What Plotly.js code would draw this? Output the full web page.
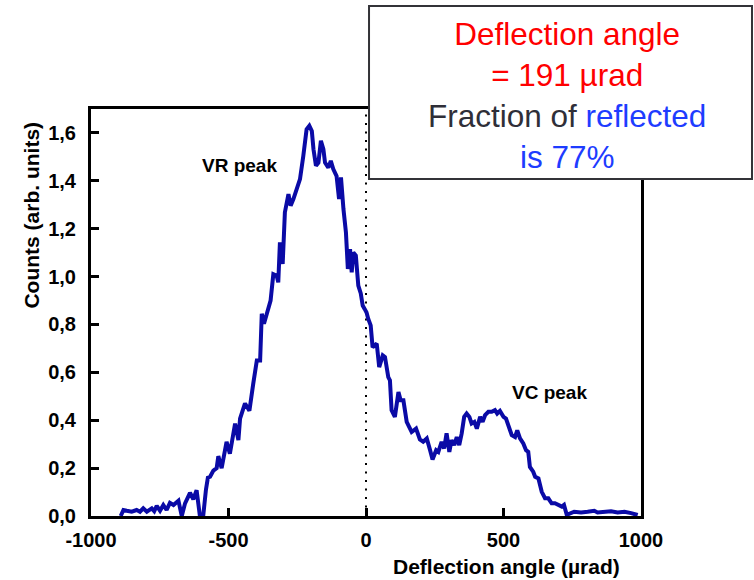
<!DOCTYPE html>
<html>
<head>
<meta charset="utf-8">
<script src="https://cdn.plot.ly/plotly-3.0.1.min.js"></script>
<style>
  html, body { margin: 0; padding: 0; background: #ffffff; }
  #chart { width: 754px; height: 580px; }
</style>
</head>
<body>
<div id="chart"></div>
<script>
// Deflection angle distribution (µrad) and counts
const angle = [
  -892, -882, -870, -852, -834, -822, -810, -797, -779, -770, -761, -749, -737, -725, -713, -700,
  -682, -670, -658, -640, -628, -616, -604, -592, -582, -575, -567, -555, -543, -537, -525, -513,
  -507, -495, -488, -476, -464, -458, -440, -424, -410, -397, -385, -379, -371, -355, -347, -337,
  -325, -319, -313, -303, -295, -282, -274, -264, -252, -240, -228, -216, -206, -197, -191, -182,
  -173, -164, -155, -149, -137, -128, -119, -107, -98, -91, -82, -73, -66, -58, -52, -46,
  -37, -28, -19, -12, -5, 2, 8, 17, 24, 39, 48, 61, 69, 81, 87, 93,
  105, 118, 126, 136, 148, 166, 182, 196, 208, 221, 233, 242, 255, 263, 275, 284,
  293, 303, 311, 321, 330, 339, 348, 357, 366, 376, 384, 394, 403, 415, 424, 433,
  445, 457, 469, 477, 487, 500, 509, 521, 530, 542, 550, 560, 572, 582, 590, 596,
  608, 615, 627, 639, 651, 663, 675, 687, 699, 712, 720, 730, 757, 782, 806, 830,
  842, 867, 891, 915, 940, 964, 988
];
const counts = [
  0.0, 0.025, 0.022, 0.018, 0.025, 0.018, 0.032, 0.018, 0.032, 0.02, 0.042, 0.022, 0.046, 0.025, 0.055, 0.046,
  0.064, 0.0, 0.053, 0.097, 0.07, 0.108, 0.0, 0.0, 0.11, 0.16, 0.164, 0.19, 0.2, 0.25, 0.2, 0.28,
  0.31, 0.26, 0.31, 0.386, 0.317, 0.407, 0.47, 0.44, 0.553, 0.65, 0.65, 0.845, 0.803, 0.87, 0.9, 1.01,
  1.004, 0.976, 1.143, 1.053, 1.268, 1.344, 1.296, 1.324, 1.365, 1.407, 1.504, 1.615, 1.63, 1.608, 1.532, 1.463,
  1.476, 1.567, 1.532, 1.476, 1.455, 1.483, 1.449, 1.42, 1.324, 1.414, 1.282, 1.185, 1.032, 1.115, 1.018, 1.101,
  1.088, 0.962, 0.93, 0.879, 0.865, 0.85, 0.824, 0.796, 0.705, 0.72, 0.622, 0.671, 0.664, 0.58, 0.567, 0.442,
  0.414, 0.518, 0.483, 0.483, 0.393, 0.351, 0.365, 0.32, 0.31, 0.324, 0.275, 0.236, 0.275, 0.268, 0.31, 0.282,
  0.345, 0.268, 0.317, 0.296, 0.33, 0.296, 0.345, 0.414, 0.428, 0.414, 0.386, 0.393, 0.365, 0.414, 0.393, 0.421,
  0.435, 0.435, 0.442, 0.428, 0.439, 0.414, 0.407, 0.372, 0.338, 0.33, 0.358, 0.324, 0.303, 0.275, 0.268, 0.205,
  0.185, 0.164, 0.157, 0.101, 0.074, 0.074, 0.053, 0.053, 0.046, 0.039, 0.046, 0.005, 0.018, 0.015, 0.018, 0.022,
  0.015, 0.018, 0.02, 0.015, 0.018, 0.012, 0.004
];

// Axis ticks and labels
const xTickVals = [-1000, -500, 0, 500, 1000];
const xTickText = ["-1000", "-500", "0", "500", "1000"];
const yTickVals = [0, 0.2, 0.4, 0.6, 0.8, 1.0, 1.2, 1.4, 1.6];
const yTickText = ["0,0", "0,2", "0,4", "0,6", "0,8", "1,0", "1,2", "1,4", "1,6"];

const FONT = "Liberation Sans, Arial, Helvetica, sans-serif";

const trace = {
  x: angle,
  y: counts,
  type: "scatter",
  mode: "lines",
  line: { color: "#0a0aa6", width: 4 },
  hoverinfo: "x+y"
};

const axisCommon = {
  showgrid: false,
  zeroline: false,
  showline: true,
  linecolor: "#000000",
  linewidth: 3,
  mirror: true,
  ticks: "inside",
  ticklen: 8,
  tickwidth: 3,
  tickcolor: "#000000",
  tickmode: "array",
  tickfont: { family: FONT, size: 20, color: "#000000", weight: "bold" }
};

const layout = {
  width: 754,
  height: 580,
  margin: { l: 91, r: 113, t: 109, b: 64 },
  paper_bgcolor: "#ffffff",
  plot_bgcolor: "#ffffff",
  showlegend: false,
  font: { family: FONT },
  xaxis: Object.assign({}, axisCommon, {
    range: [-1000, 1000],
    tickvals: xTickVals,
    ticktext: xTickText,
    ticklabelstandoff: 4
  }),
  yaxis: Object.assign({}, axisCommon, {
    range: [0, 1.7],
    tickvals: yTickVals,
    ticktext: yTickText,
    ticklabelstandoff: 8
  }),
  shapes: [
    {
      // dotted marker at zero deflection
      type: "line", xref: "x", yref: "y",
      x0: 0, x1: 0, y0: 0, y1: 1.7,
      line: { color: "#000000", width: 2, dash: "2px,6.5px" },
      layer: "below"
    },
    {
      // frame of the summary box
      type: "rect", xref: "paper", yref: "paper",
      x0: 0.5055, x1: 1.2018, y0: 0.828, y1: 1.2531,
      fillcolor: "#ffffff",
      line: { color: "#333338", width: 2 },
      layer: "above"
    }
  ],
  annotations: [
    {
      xref: "paper", yref: "paper", x: 0.8655, y: 1.034,
      xanchor: "center", yanchor: "middle", showarrow: false, align: "center",
      font: { family: FONT, size: 31.5, color: "#2f2f38" },
      text: "<span style='color:#ff0000'>Deflection angle</span><br>" +
            "<span style='color:#ff0000'>= 191 µrad</span><br>" +
            "Fraction of <span style='color:#1e3cff'>reflected</span><br>" +
            "<span style='color:#1e3cff'>is 77%</span>"
    },
    {
      xref: "x", yref: "y", x: -460, y: 1.4625,
      xanchor: "center", yanchor: "middle", showarrow: false,
      font: { family: FONT, size: 19, color: "#000000", weight: "bold" },
      text: "VR peak"
    },
    {
      xref: "x", yref: "y", x: 667, y: 0.515,
      xanchor: "center", yanchor: "middle", showarrow: false,
      font: { family: FONT, size: 19, color: "#000000", weight: "bold" },
      text: "VC peak"
    },
    {
      xref: "paper", yref: "paper", x: 0.7556, y: -0.1253,
      xanchor: "center", yanchor: "middle", showarrow: false,
      font: { family: FONT, size: 21, color: "#000000", weight: "bold" },
      text: "Deflection angle (µrad)"
    },
    {
      xref: "paper", yref: "paper", x: -0.108, y: 0.7396,
      xanchor: "center", yanchor: "middle", showarrow: false, textangle: -90,
      font: { family: FONT, size: 21, color: "#000000", weight: "bold" },
      text: "Counts (arb. units)"
    }
  ]
};

Plotly.newPlot("chart", [trace], layout, { displayModeBar: false, staticPlot: true });
</script>
</body>
</html>
